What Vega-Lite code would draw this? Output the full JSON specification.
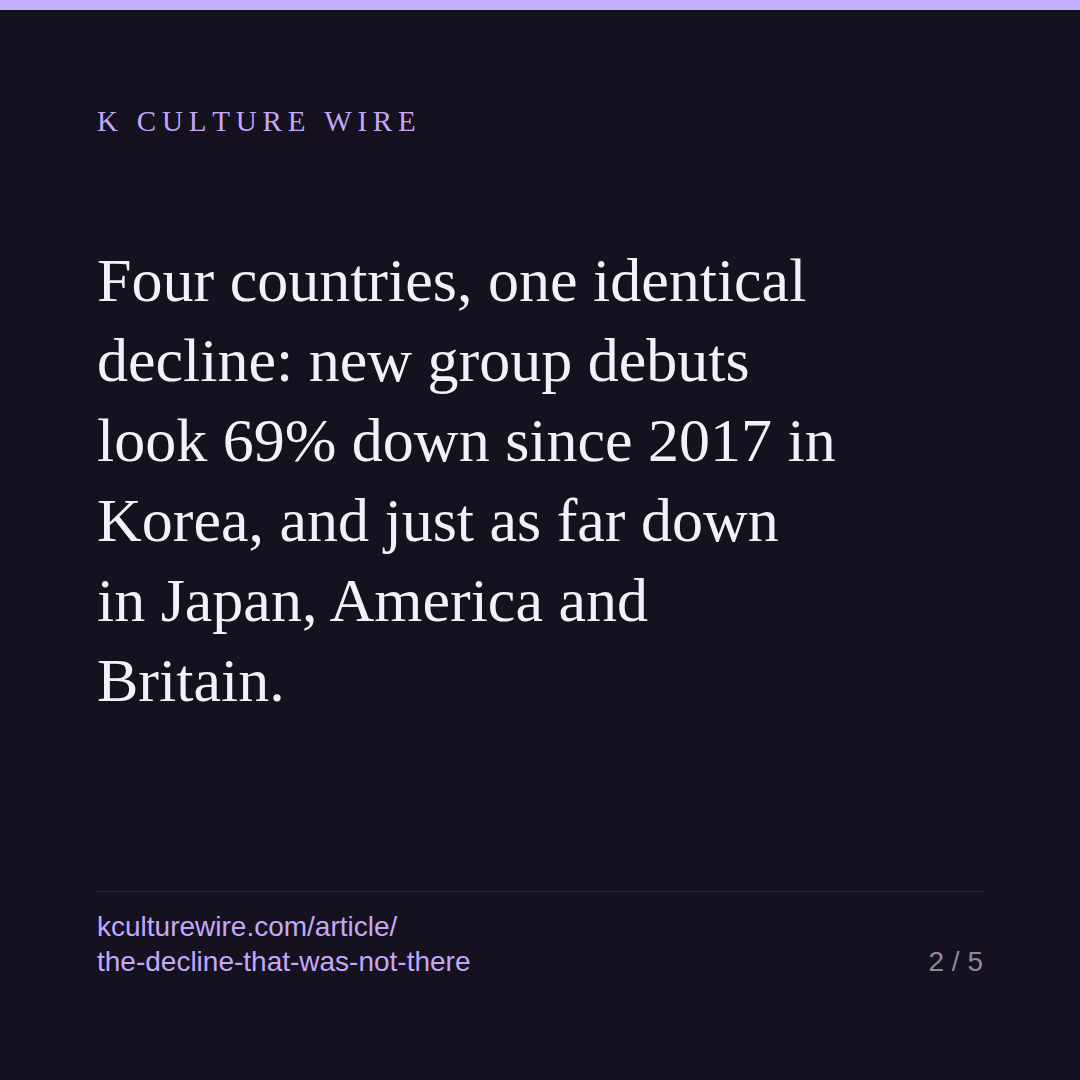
{
  "$schema": "https://vega.github.io/schema/vega-lite/v6.json",
  "width": 1080,
  "height": 1080,
  "autosize": {"type": "fit", "contains": "padding"},
  "padding": {"top": 10, "left": 0, "right": 0, "bottom": 0},
  "background": "#c4adf9",
  "config": {"view": {"fill": "#15111f", "stroke": null}},
  "data": {
    "values": [
      {"block": "kicker", "side": "start", "line": 1, "text": "K\u2009\u00a0\u2009C\u2009U\u2009L\u2009T\u2009U\u2009R\u2009E\u2009\u00a0\u2009W\u2009I\u2009R\u2009E"},
      {"block": "headline", "side": "start", "line": 1, "text": "Four countries, one identical"},
      {"block": "headline", "side": "start", "line": 2, "text": "decline: new group debuts"},
      {"block": "headline", "side": "start", "line": 3, "text": "look 69% down since 2017 in"},
      {"block": "headline", "side": "start", "line": 4, "text": "Korea, and just as far down"},
      {"block": "headline", "side": "start", "line": 5, "text": "in Japan, America and"},
      {"block": "headline", "side": "start", "line": 6, "text": "Britain."},
      {"block": "rule", "side": "start", "line": 1, "text": ""},
      {"block": "url", "side": "start", "line": 1, "text": "kculturewire.com/article/"},
      {"block": "url", "side": "start", "line": 2, "text": "the-decline-that-was-not-there"},
      {"block": "page", "side": "end", "line": 2, "text": "2 / 5"}
    ]
  },
  "layer": [
    {
      "transform": [{"filter": "datum.block == 'kicker'"}],
      "mark": {"type": "text", "align": "left", "baseline": "alphabetic", "font": "Liberation Serif", "fontSize": 29, "color": "#c4a8f8"},
      "encoding": {
        "x": {"field": "side", "type": "nominal", "scale": {"type": "point", "domain": ["start", "end"], "range": [97, 983], "padding": 0}, "axis": null},
        "y": {"field": "line", "type": "quantitative", "scale": {"domain": [0, 1], "range": [0, 121]}, "axis": null},
        "text": {"field": "text"}
      }
    },
    {
      "transform": [{"filter": "datum.block == 'headline'"}],
      "mark": {"type": "text", "align": "left", "baseline": "alphabetic", "font": "Liberation Serif", "fontSize": 62, "color": "#f4f0fb"},
      "encoding": {
        "x": {"field": "side", "type": "nominal", "axis": null},
        "y": {"field": "line", "type": "quantitative", "scale": {"domain": [1, 6], "range": [291, 691]}, "axis": null},
        "text": {"field": "text"}
      }
    },
    {
      "transform": [{"filter": "datum.block == 'rule'"}],
      "mark": {"type": "rule", "color": "#2e2a3e", "strokeWidth": 1},
      "encoding": {
        "x": {"field": "side", "type": "nominal", "axis": null},
        "x2": {"datum": "end"},
        "y": {"field": "line", "type": "quantitative", "scale": {"domain": [0, 1], "range": [0, 881.5]}, "axis": null}
      }
    },
    {
      "transform": [{"filter": "datum.block == 'url'"}],
      "mark": {"type": "text", "align": "left", "baseline": "alphabetic", "font": "Liberation Sans", "fontSize": 28, "color": "#c4a8f8"},
      "encoding": {
        "x": {"field": "side", "type": "nominal", "axis": null},
        "y": {"field": "line", "type": "quantitative", "scale": {"domain": [1, 2], "range": [926, 961]}, "axis": null},
        "text": {"field": "text"}
      }
    },
    {
      "transform": [{"filter": "datum.block == 'page'"}],
      "mark": {"type": "text", "align": "right", "baseline": "alphabetic", "font": "Liberation Sans", "fontSize": 28, "color": "#8d8a9b"},
      "encoding": {
        "x": {"field": "side", "type": "nominal", "axis": null},
        "y": {"field": "line", "type": "quantitative", "scale": {"domain": [1, 2], "range": [926, 961]}, "axis": null},
        "text": {"field": "text"}
      }
    }
  ],
  "resolve": {"scale": {"y": "independent"}}
}
